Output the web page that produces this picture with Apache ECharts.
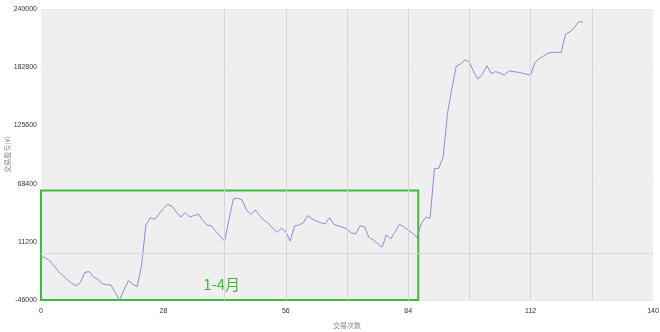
<!DOCTYPE html>
<html>
<head>
<meta charset="utf-8">
<script src="https://cdn.jsdelivr.net/npm/echarts@6/dist/echarts.min.js"></script>
<style>html,body{margin:0;padding:0;background:#fff}#c{width:660px;height:332px}</style>
</head>
<body>
<div id="c"></div>
<script>
const profit = [
  -3000, -4500, -7500, -12500, -18000, -22000, -26000, -29500, -32000, -29000,
  -19000, -18000, -23500, -25500, -30000, -31000, -31300, -39000, -46000, -36000,
  -27000, -30500, -33000, -12000, 27700, 34900, 33300, 38500, 44000, 48000,
  46000, 40500, 35500, 40000, 35500, 37000, 38500, 32000, 27700, 26700,
  21500, 16500, 12000, 33000, 53300, 54000, 52300, 42500, 38200, 42500,
  36900, 32500, 29400, 25000, 20500, 24500, 21100, 12000, 26700, 27700,
  30000, 36900, 34000, 31500, 30000, 28700, 34900, 28400, 27000, 25500,
  23500, 20000, 18900, 27000, 26000, 15600, 13000, 9500, 5800, 17900,
  14000, 21000, 28400, 26000, 22800, 19500, 15600, 29000, 35300, 34300,
  83000, 83500, 94500, 137500, 162000, 184000, 186000, 190000, 188000, 178000,
  171200, 176000, 184300, 176500, 178500, 177000, 175100, 179100, 178500, 178000,
  177000, 176000, 175100, 187600, 191000, 194000, 196500, 197400, 197400, 197400,
  215400, 217500, 222000, 227500, 227000
];
const yTicks = [-46000, 11200, 68400, 125600, 182800, 240000];
const xTicks = [0, 28, 56, 84, 112, 140];
const gridX = [42, 56, 70, 84, 98, 112, 126];
const boxX = [-0.7, 86.3];
const boxY = [61500, -46000];
const boxLabel = '1-4月';

const seriesData = profit.map((v, i) => [i, v]);

const chart = echarts.init(document.getElementById('c'), null, {renderer: 'canvas'});
chart.setOption({
  animation: false,
  backgroundColor: '#ffffff',
  grid: {left: 41, right: 7, top: 9, bottom: 32, show: true, backgroundColor: '#efefef', borderWidth: 0, containLabel: false, outerBoundsMode: 'none'},
  xAxis: {
    type: 'value', min: xTicks[0], max: xTicks[xTicks.length - 1], interval: 28,
    name: '交易次数', nameLocation: 'middle', nameGap: 22, nameMoveOverlap: false,
    nameTextStyle: {fontSize: 7, color: '#888', fontFamily: 'Noto Sans CJK SC'},
    axisLine: {show: false}, axisTick: {show: false},
    axisLabel: {fontSize: 7, color: '#333', margin: 8, fontFamily: 'Liberation Sans', formatter: v => String(v)},
    splitLine: {show: false}
  },
  yAxis: {
    type: 'value', min: yTicks[0], max: yTicks[yTicks.length - 1], interval: 57200,
    name: '交易盈亏(¥)', nameLocation: 'middle', nameGap: 30, nameRotate: 90, nameMoveOverlap: false,
    nameTextStyle: {fontSize: 7, color: '#888', fontFamily: 'Noto Sans CJK SC'},
    axisLine: {show: false}, axisTick: {show: false},
    axisLabel: {fontSize: 7, color: '#333', margin: 4, fontFamily: 'Liberation Sans', formatter: v => String(v)},
    splitLine: {show: true, lineStyle: {color: '#e9e9e9', width: 1}}
  },
  series: [{
    type: 'line',
    data: seriesData,
    showSymbol: false,
    clip: false,
    lineStyle: {color: '#8d8dd6', width: 1},
    itemStyle: {color: '#8d8dd6'},
    z: 3,
    markLine: {
      silent: true, symbol: 'none', label: {show: false},
      data: gridX.map(x => ({xAxis: x, lineStyle: {color: '#d6d6d6', width: 1, type: 'solid'}}))
        .concat([{yAxis: 0, lineStyle: {color: '#dadada', width: 1, type: 'solid'}}])
    },
    markArea: {
      silent: true,
      itemStyle: {color: 'rgba(0,0,0,0)', borderColor: '#3dbb3d', borderWidth: 2},
      label: {show: true, position: 'insideBottom', distance: 9, offset: [-8, 0], color: '#3dbb3d', fontSize: 15, fontFamily: 'Noto Sans CJK SC'},
      data: [[{name: boxLabel, coord: [boxX[0], boxY[0]]}, {coord: [boxX[1], boxY[1]]}]]
    }
  }]
});
</script>
</body>
</html>
